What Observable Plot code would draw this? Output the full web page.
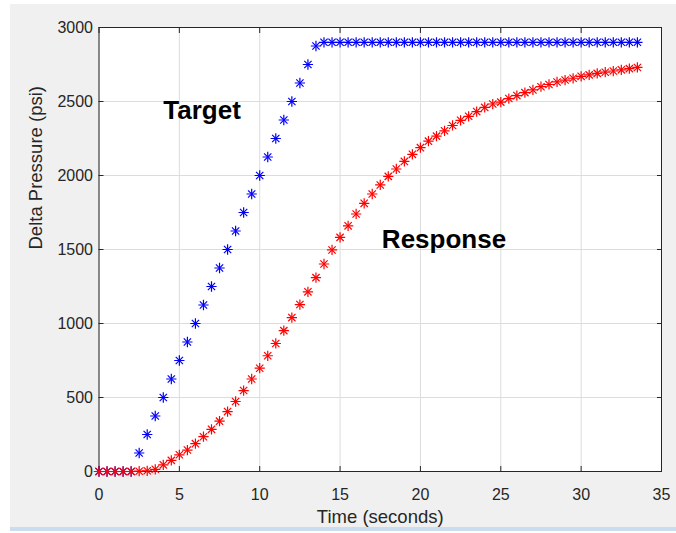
<!DOCTYPE html>
<html>
<head>
<meta charset="utf-8">
<script src="https://cdn.jsdelivr.net/npm/d3@7"></script>
<script src="https://cdn.jsdelivr.net/npm/@observablehq/plot@0.6"></script>
<style>
  html, body { margin: 0; padding: 0; background: #ffffff; }
  #wrap { position: relative; width: 676px; height: 533px; overflow: hidden; }
  #bg { position: absolute; left: 10px; top: 4px; width: 666px; height: 523px; background: #f0f0f0; border-bottom: 4px solid #c9ddef; }
  #chart { position: absolute; left: 0; top: 0; }
</style>
</head>
<body>
<div id="wrap"><div id="bg"></div><div id="chart"></div></div>
<script>
const time = [0,0.5,1,1.5,2,2.5,3,3.5,4,4.5,5,5.5,6,6.5,7,7.5,8,8.5,9,9.5,10,10.5,11,11.5,12,12.5,13,13.5,14,14.5,15,15.5,16,16.5,17,17.5,18,18.5,19,19.5,20,20.5,21,21.5,22,22.5,23,23.5,24,24.5,25,25.5,26,26.5,27,27.5,28,28.5,29,29.5,30,30.5,31,31.5,32,32.5,33,33.5];
const target = [0,0,0,0,0,125,250,375,500,625,750,875,1000,1125,1250,1375,1500,1625,1750,1875,2000,2125,2250,2375,2500,2625,2750,2875,
  2900,2900,2900,2900,2900,2900,2900,2900,2900,2900,2900,2900,2900,2900,2900,2900,2900,2900,2900,2900,
  2900,2900,2900,2900,2900,2900,2900,2900,2900,2900,2900,2900,2900,2900,2900,2900,2900,2900,2900,2900];
const response = [0,0,0,0,0,2,5,15,45,75,
  113,145,188,235,285,340,405,473,547,625,
  698,782,865,952,1040,1128,1214,1310,1402,1497,
  1582,1660,1740,1812,1875,1936,1994,2044,2095,2143,
  2188,2232,2266,2302,2338,2373,2400,2432,2460,2483,
  2496,2520,2540,2560,2578,2600,2615,2632,2645,2657,
  2670,2680,2690,2698,2706,2714,2722,2730];
const xTicks = [0,5,10,15,20,25,30,35];
const yTicks = [0,500,1000,1500,2000,2500,3000];
const xLabel = "Time (seconds)";
const yLabel = "Delta Pressure (psi)";
const annLabels = ["Target", "Response"];
const annX = [4.0, 17.6];
const annY = [2385, 1512];

const targetRows = time.map((t, i) => ({t, v: target[i]}));
const responseRows = time.map((t, i) => ({t, v: response[i]}));
const annRows = annLabels.map((s, i) => ({s, x: annX[i], y: annY[i]}));

const axisColor = "#262626";
const fmt = d3.format("d");
const starMarks = (rows, color) => [
  Plot.dot(rows, {x: "t", y: "v", symbol: "plus", r: 3.4, stroke: color, strokeWidth: 1.2}),
  Plot.dot(rows, {x: "t", y: "v", symbol: "times", r: 3.4, stroke: color, strokeWidth: 1.2})
];

const chart = Plot.plot({
  width: 676,
  height: 533,
  marginLeft: 98.5,
  marginRight: 15,
  marginTop: 27,
  marginBottom: 62,
  style: {background: "transparent", fontFamily: "'Liberation Sans', Arial, sans-serif", fontSize: "16px", color: axisColor},
  x: {domain: [0, 35], label: null},
  y: {domain: [0, 3000], label: null},
  marks: [
    Plot.frame({fill: "white", stroke: null}),
    Plot.gridX(xTicks, {stroke: "#dcdcdc", strokeOpacity: 1}),
    Plot.gridY(yTicks, {stroke: "#dcdcdc", strokeOpacity: 1}),
    Plot.axisX(xTicks, {anchor: "bottom", tickSize: -5, tickPadding: 22, tickFormat: fmt, fontSize: 16, label: null, stroke: axisColor, fill: axisColor}),
    Plot.axisX(xTicks, {anchor: "top", tickSize: -5, tickFormat: () => "", label: null, stroke: axisColor}),
    Plot.axisY(yTicks, {anchor: "left", tickSize: -5, tickPadding: 11, tickFormat: fmt, fontSize: 16, label: null, stroke: axisColor, fill: axisColor}),
    Plot.axisY(yTicks, {anchor: "right", tickSize: -5, tickFormat: () => "", label: null, stroke: axisColor}),
    Plot.frame({stroke: axisColor, strokeWidth: 1}),
    ...starMarks(targetRows, "#0000ff"),
    ...starMarks(responseRows, "#ff0000"),
    Plot.text(annRows, {x: "x", y: "y", text: "s", textAnchor: "start", lineAnchor: "bottom", fontSize: 26, fontWeight: "bold", fill: "#000000"}),
    Plot.text([xLabel], {frameAnchor: "bottom", dy: 51, fontSize: 18.5, fill: axisColor}),
    Plot.text([yLabel], {frameAnchor: "left", rotate: -90, dx: -63, fontSize: 18.5, fill: axisColor})
  ]
});
document.getElementById("chart").appendChild(chart);
</script>
</body>
</html>
